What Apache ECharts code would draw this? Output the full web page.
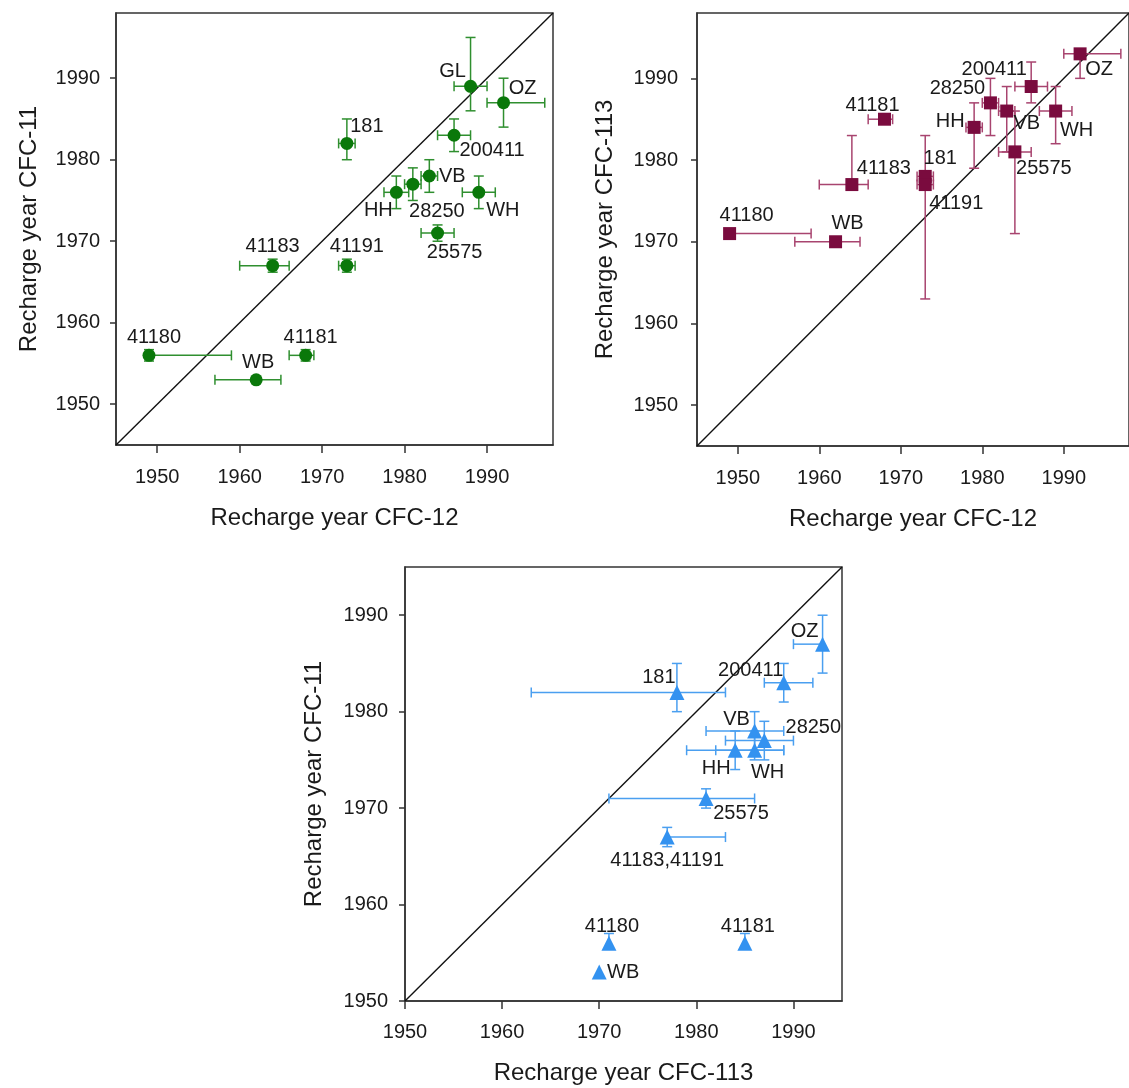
<!DOCTYPE html>
<html>
<head>
<meta charset="utf-8">
<script src="https://cdn.jsdelivr.net/npm/echarts@6/dist/echarts.min.js"></script>
<style>
html,body{margin:0;padding:0;background:#fff;}
#c{width:1129px;height:1088px;}
</style>
</head>
<body>
<div id="c"></div>
<script>
// ---------- DATA ----------
const tickYears = [1950, 1960, 1970, 1980, 1990];

// Panel A: CFC-12 (x) vs CFC-11 (y)
const aNames = ["41180","WB","41181","41183","41191","181","HH","28250","VB","WH","25575","200411","GL","OZ"];
const aX     = [1949, 1962, 1968, 1964, 1973, 1973, 1979, 1981, 1983, 1989, 1984, 1986, 1988, 1992];
const aXLo   = [1949, 1957, 1966, 1960, 1972, 1972, 1977.5, 1980, 1982, 1987, 1982, 1984, 1986, 1990];
const aXHi   = [1959, 1965, 1969, 1966, 1974, 1974, 1980.5, 1982, 1984, 1991, 1986, 1988, 1990, 1997];
const aY     = [1956, 1953, 1956, 1967, 1967, 1982, 1976, 1977, 1978, 1976, 1971, 1983, 1989, 1987];
const aYLo   = [1955.3, 1953, 1955.3, 1966.2, 1966.2, 1980, 1974, 1975, 1976, 1974, 1970, 1981, 1986, 1984];
const aYHi   = [1956.7, 1953, 1956.7, 1967.8, 1967.8, 1985, 1978, 1979, 1980, 1978, 1972, 1985, 1995, 1990];

// Panel B: CFC-12 (x) vs CFC-113 (y)
const bNames = ["41180","WB","41181","41183","181","41191","HH","28250","VB","200411","WH","25575","OZ"];
const bX     = [1949, 1962, 1968, 1964, 1973, 1973, 1979, 1981, 1983, 1986, 1989, 1984, 1992];
const bXLo   = [1949, 1957, 1966, 1960, 1972, 1972, 1978, 1980, 1982, 1984, 1987, 1982, 1990];
const bXHi   = [1959, 1965, 1969, 1966, 1974, 1974, 1980, 1982, 1984, 1988, 1991, 1986, 1997];
const bY     = [1971, 1970, 1985, 1977, 1978, 1977, 1984, 1987, 1986, 1989, 1986, 1981, 1993];
const bYLo   = [1971, 1970, 1984.6, 1977, 1977, 1963, 1979, 1983, 1981, 1987, 1982, 1971, 1990];
const bYHi   = [1971, 1970, 1985.4, 1983, 1983, 1978, 1987, 1990, 1989, 1992, 1989, 1986, 1993];

// Panel C: CFC-113 (x) vs CFC-11 (y)
const cNames = ["181","200411","OZ","VB","28250","HH","WH","25575","41183,41191","41180","41181","WB"];
const cX     = [1978, 1989, 1993, 1986, 1987, 1984, 1986, 1981, 1977, 1971, 1985, 1970];
const cXLo   = [1963, 1987, 1990, 1981, 1983, 1979, 1982, 1971, 1977, 1971, 1985, 1970];
const cXHi   = [1983, 1992, 1993, 1989, 1990, 1989, 1989, 1986, 1983, 1971, 1985, 1970];
const cY     = [1982, 1983, 1987, 1978, 1977, 1976, 1976, 1971, 1967, 1956, 1956, 1953];
const cYLo   = [1980, 1981, 1984, 1976, 1975, 1974, 1975, 1970, 1966, 1956, 1956, 1953];
const cYHi   = [1985, 1985, 1990, 1980, 1979, 1978, 1978, 1972, 1968, 1957, 1957, 1953];

// ---------- LABEL PLACEMENT (pixel offsets of label centre from marker centre) ----------
const aLabelOffset = {"41180":[5,-18],"WB":[2,-17],"41181":[5,-18],"41183":[0,-19],"41191":[10,-19],"181":[20,-17],
  "HH":[-18,18],"28250":[24,27],"VB":[23,0],"WH":[24,18],"25575":[17,19],"200411":[38,15],"GL":[-18,-15],"OZ":[19,-14]};
const bLabelOffset = {"41180":[17,-18],"WB":[12,-18],"41181":[-12,-14],"41183":[32,-16],"181":[15,-18],"41191":[31,19],
  "HH":[-24,-6],"28250":[-33,-14],"VB":[20,12],"200411":[-37,-17],"WH":[21,19],"25575":[29,17],"OZ":[19,16]};
const cLabelOffset = {"181":[-18,-15],"200411":[-33,-12],"OZ":[-18,-13],"VB":[-18,-11],"28250":[49,-13],"HH":[-19,18],
  "WH":[13,22],"25575":[35,15],"41183,41191":[0,23],"41180":[3,-17],"41181":[3,-17],"WB":[24,0]};

// ---------- HELPERS ----------
const FONT = '"Liberation Sans", Arial, Helvetica, sans-serif';
const TXT = '#1a1a1a';

function pointData(names, xs, ys) {
  return names.map((n, i) => ({ name: n, value: [xs[i], ys[i]] }));
}
function errData(xs, ys, xl, xh, yl, yh) {
  return xs.map((x, i) => [x, ys[i], xl[i], xh[i], yl[i], yh[i]]);
}
function makeErrRender(color) {
  return function (params, api) {
    const x = api.value(0), y = api.value(1);
    const xl = api.value(2), xh = api.value(3), yl = api.value(4), yh = api.value(5);
    const cap = 5;
    const style = { stroke: color, lineWidth: 1.5, fill: null };
    const ch = [];
    const seg = (x1, y1, x2, y2) => ch.push({ type: 'line', shape: { x1, y1, x2, y2 }, style });
    if (xh > xl) {
      const p1 = api.coord([xl, y]), p2 = api.coord([xh, y]);
      seg(p1[0], p1[1], p2[0], p2[1]);
      if (xl < x) seg(p1[0], p1[1] - cap, p1[0], p1[1] + cap);
      if (xh > x) seg(p2[0], p2[1] - cap, p2[0], p2[1] + cap);
    }
    if (yh > yl) {
      const p1 = api.coord([x, yl]), p2 = api.coord([x, yh]);
      seg(p1[0], p1[1], p2[0], p2[1]);
      if (yl < y) seg(p1[0] - cap, p1[1], p1[0] + cap, p1[1]);
      if (yh > y) seg(p2[0] - cap, p2[1], p2[0] + cap, p2[1]);
    }
    return { type: 'group', children: ch };
  };
}
const plainYear = v => String(Math.round(v));
function xAxisCfg(gi, min, max, name, labelMargin, nameGap) {
  return {
    type: 'value', gridIndex: gi, min, max,
    name, nameLocation: 'middle', nameGap,
    nameTextStyle: { fontSize: 24, color: TXT, fontFamily: FONT },
    axisLine: { show: true, onZero: false, lineStyle: { color: '#333', width: 1.5 } },
    axisTick: { show: true, inside: false, length: 8, customValues: tickYears, lineStyle: { color: '#333', width: 1.5 } },
    axisLabel: { show: true, customValues: tickYears, formatter: plainYear, margin: labelMargin, fontSize: 20, color: TXT, fontFamily: FONT },
    splitLine: { show: false }
  };
}
function yAxisCfg(gi, min, max, name, labelMargin, nameGap) {
  return {
    type: 'value', gridIndex: gi, min, max,
    name, nameLocation: 'middle', nameGap,
    nameTextStyle: { fontSize: 24, color: TXT, fontFamily: FONT },
    axisLine: { show: true, onZero: false, lineStyle: { color: '#333', width: 1.5 } },
    axisTick: { show: true, inside: false, length: 6, customValues: tickYears, lineStyle: { color: '#333', width: 1.5 } },
    axisLabel: { show: true, customValues: tickYears, formatter: plainYear, margin: labelMargin, fontSize: 20, color: TXT, fontFamily: FONT },
    splitLine: { show: false }
  };
}
function panelSeries(gi, names, xs, xl, xh, ys, yl, yh, offsets, symbol, size, markColor, errColor, dMin, dMax) {
  return [
    {
      type: 'line', xAxisIndex: gi, yAxisIndex: gi, data: [[dMin, dMin], [dMax, dMax]],
      showSymbol: false, symbol: 'none', silent: true, z: 1,
      lineStyle: { color: '#111', width: 1.4 }
    },
    {
      type: 'custom', xAxisIndex: gi, yAxisIndex: gi, renderItem: makeErrRender(errColor),
      data: errData(xs, ys, xl, xh, yl, yh), encode: { x: 0, y: 1 }, z: 2, clip: true, silent: true
    },
    {
      type: 'scatter', xAxisIndex: gi, yAxisIndex: gi, symbol, symbolSize: size, z: 3,
      itemStyle: { color: markColor, opacity: 1 },
      data: pointData(names, xs, ys),
      label: {
        show: true, position: 'inside', formatter: '{b}', fontSize: 20, color: TXT, fontFamily: FONT,
        align: 'center', verticalAlign: 'middle'
      },
      labelLayout: function (p) {
        const o = offsets[names[p.dataIndex]] || [0, 0];
        return { dx: o[0], dy: o[1], hideOverlap: false };
      },
      emphasis: { disabled: true }
    }
  ];
}

const chart = echarts.init(document.getElementById('c'), null, { renderer: 'canvas' });
const gridBorder = { show: true, borderColor: '#333', borderWidth: 1.5, backgroundColor: 'transparent', containLabel: false };

chart.setOption({
  animation: false,
  backgroundColor: '#fff',
  grid: [
    Object.assign({ left: 116, top: 13, width: 437, height: 432 }, gridBorder),
    Object.assign({ left: 697, top: 13, width: 436, height: 433 }, gridBorder),
    Object.assign({ left: 405, top: 567, width: 437, height: 434 }, gridBorder)
  ],
  xAxis: [
    xAxisCfg(0, 1945, 1998, 'Recharge year CFC-12', 22, 61),
    xAxisCfg(1, 1945, 1998, 'Recharge year CFC-12', 22, 61),
    xAxisCfg(2, 1950, 1995, 'Recharge year CFC-113', 21, 60)
  ],
  yAxis: [
    yAxisCfg(0, 1945, 1998, 'Recharge year CFC-11', 16, 75),
    yAxisCfg(1, 1945, 1998, 'Recharge year CFC-113', 19, 80),
    yAxisCfg(2, 1950, 1995, 'Recharge year CFC-11', 17, 79)
  ],
  series: [].concat(
    panelSeries(0, aNames, aX, aXLo, aXHi, aY, aYLo, aYHi, aLabelOffset, 'circle', 13, '#0a780a', '#2f8f2f', 1945, 1998),
    panelSeries(1, bNames, bX, bXLo, bXHi, bY, bYLo, bYHi, bLabelOffset, 'rect', 13, '#7a0b3e', '#a8446f', 1945, 1998),
    panelSeries(2, cNames, cX, cXLo, cXHi, cY, cYLo, cYHi, cLabelOffset, 'triangle', 15, '#3392f0', '#4a9ff0', 1950, 1995)
  )
});
</script>
</body>
</html>
